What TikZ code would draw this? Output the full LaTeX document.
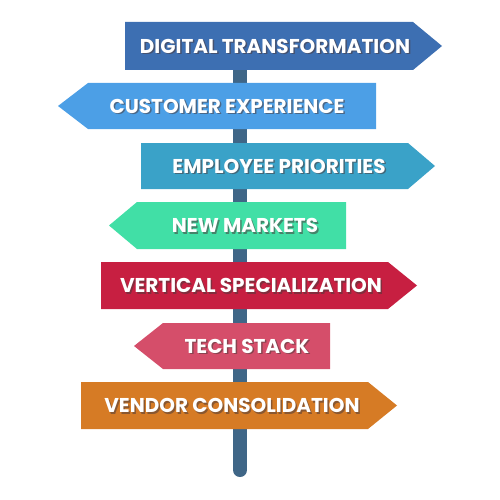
\documentclass[tikz,border=0pt]{standalone}
\usepackage{fontspec}
\setmainfont{Poppins}
\usepackage{tikz}
\usetikzlibrary{positioning}

\definecolor{poleblue}{HTML}{3F6687}
\definecolor{digitalblue}{HTML}{3D6FB2}
\definecolor{customerblue}{HTML}{4C9FE6}
\definecolor{employeeblue}{HTML}{3AA2C8}
\definecolor{marketgreen}{HTML}{41DFA6}
\definecolor{verticalred}{HTML}{C71F41}
\definecolor{techpink}{HTML}{D54E6A}
\definecolor{vendororange}{HTML}{D67B25}
\definecolor{textshadow}{HTML}{4A3A3A}

\tikzset{
  signtext/.style={text=white, inner sep=0pt, font=\bfseries\fontsize{20}{22}\selectfont},
  shadowtext/.style={signtext, text=textshadow, opacity=0.55},
  pole/.style={line width=14pt, line cap=round, draw=poleblue}
}

% sign pointing right: name, left, top, bottom, body end, tip, colour, text x, text
\newcommand{\rightsign}[9]{
  \fill[#7] (#2,#3) -- (#5,#3) -- (#6,{(#3+#4)/2}) -- (#5,#4) -- (#2,#4) -- cycle;
  \node[shadowtext] at (#8+1.5,{(#3+#4)/2+1.5}) {#9};
  \node[signtext] (#1) at (#8,{(#3+#4)/2}) {#9};
}
% sign pointing left: name, tip, body start, right, top, bottom, colour, text x, text
\newcommand{\leftsign}[9]{
  \fill[#7] (#2,{(#5+#6)/2}) -- (#3,#5) -- (#4,#5) -- (#4,#6) -- (#3,#6) -- cycle;
  \node[shadowtext] at (#8+1.5,{(#5+#6)/2+1.5}) {#9};
  \node[signtext] (#1) at (#8,{(#5+#6)/2}) {#9};
}

\begin{document}
\begin{tikzpicture}[x=1pt, y=-1pt]
	\useasboundingbox (0,0) rectangle (500,500);
	
	% the post
	\draw[pole] (240,70) -- (240,470);
	
	% the signs
	\rightsign{digital}{125}{22}{70}{413}{442}{digitalblue}{275}{DIGITAL TRANSFORMATION}
	\leftsign{customer}{58}{88}{376}{83}{129}{customerblue}{227}{CUSTOMER EXPERIENCE}
	\rightsign{employee}{141}{143}{189}{408}{435}{employeeblue}{279}{EMPLOYEE PRIORITIES}
	\leftsign{markets}{109}{137}{346}{202}{249}{marketgreen}{245}{NEW MARKETS}
	\rightsign{vertical}{101}{262}{309}{388}{417}{verticalred}{251}{VERTICAL SPECIALIZATION}
	\leftsign{techstack}{134}{163}{330}{323}{369}{techpink}{247}{TECH STACK}
	\rightsign{vendor}{81}{382}{429}{368}{397}{vendororange}{232}{VENDOR CONSOLIDATION}
\end{tikzpicture}
\end{document}
